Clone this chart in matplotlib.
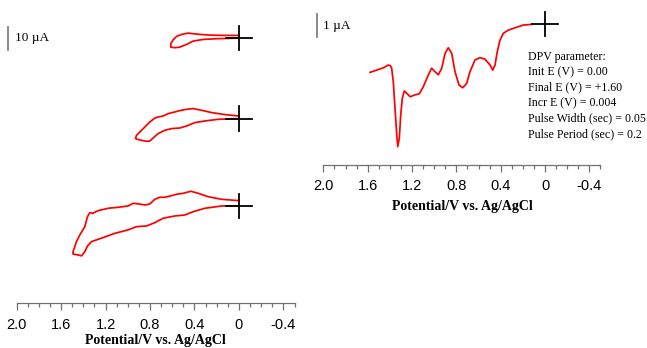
import numpy as np
import matplotlib
matplotlib.use("Agg")
import matplotlib.pyplot as plt
from matplotlib.ticker import FixedLocator, FixedFormatter, MultipleLocator

SERIF = "Liberation Serif"
SANS = "Liberation Sans"

# cyclic voltammograms, potential (V) and current (uA), one loop per scan window
cv1_E = [0.00, 0.111, 0.261, 0.351, 0.412, 0.457, 0.516, 0.561, 0.592, 0.613,
         0.613, 0.577, 0.532, 0.471, 0.412, 0.322, 0.201, 0.00]
cv1_I = [1.17, 1.17, 1.30, 1.61, 1.91, 2.17, 1.61, 0.74, -0.70, -2.43,
         -3.91, -4.17, -3.91, -2.74, -1.30, -0.57, -0.26, 0.00]

cv2_E = [0.00, 0.126, 0.246, 0.336, 0.412, 0.471, 0.532, 0.577, 0.637, 0.682,
         0.727, 0.757, 0.802, 0.847, 0.892, 0.922, 0.931, 0.892, 0.832, 0.802,
         0.772, 0.727, 0.667, 0.606, 0.532, 0.471, 0.396, 0.306, 0.186, 0.00]
cv2_I = [1.13, 1.74, 2.61, 3.61, 4.35, 4.04, 3.48, 2.87, 2.17, 1.13,
         0.70, 0.26, -1.48, -3.65, -5.83, -7.26, -8.70, -9.30, -9.87, -9.74,
         -8.43, -6.52, -5.09, -4.35, -4.09, -3.22, -1.74, -1.04, -0.30, 0.00]

cv3_E = [0.00, 0.156, 0.277, 0.367, 0.432, 0.502, 0.561, 0.606, 0.667, 0.712,
         0.757, 0.802, 0.847, 0.901, 0.952, 0.997, 1.087, 1.177, 1.268, 1.313,
         1.342, 1.363, 1.387, 1.432, 1.462, 1.493, 1.493, 1.448, 1.417, 1.387,
         1.363, 1.327, 1.237, 1.117, 0.997, 0.922, 0.832, 0.757, 0.682, 0.577,
         0.486, 0.412, 0.306, 0.156, 0.00]
cv3_I = [2.30, 2.91, 4.04, 5.52, 6.39, 5.52, 5.09, 4.48, 3.78, 3.78,
         2.91, 0.87, 0.43, 0.87, 1.17, 0.00, -0.57, -1.00, -2.04, -3.17,
         -2.91, -4.65, -9.00, -12.6, -15.5, -19.9, -20.9, -21.3, -21.7, -19.9,
         -17.4, -15.5, -14.0, -11.9, -10.4, -9.00, -8.70, -7.26, -5.35, -4.35,
         -3.91, -2.48, -1.00, 0.00, 0.00]

cv_offsets = [73.0, 38.0, 0.0]

# differential pulse voltammogram
dpv_E = [1.579, 1.519, 1.459, 1.414, 1.395, 1.384, 1.369, 1.354, 1.338, 1.329,
         1.315, 1.302, 1.288, 1.270, 1.248, 1.218, 1.173, 1.134, 1.098, 1.053,
         1.023, 0.993, 0.963, 0.932, 0.902, 0.873, 0.842, 0.812, 0.776, 0.743,
         0.707, 0.677, 0.632, 0.587, 0.542, 0.496, 0.472, 0.451, 0.431, 0.406,
         0.376, 0.331, 0.271, 0.196, 0.120]
dpv_I = [-2.09, -1.99, -1.89, -1.77, -1.80, -1.91, -2.50, -3.65, -4.81, -5.32,
         -4.96, -3.94, -3.22, -2.90, -3.00, -3.15, -3.07, -3.02, -2.71, -2.20,
         -1.91, -2.06, -2.20, -1.91, -1.26, -1.02, -1.26, -2.06, -2.64, -2.76,
         -2.57, -2.06, -1.55, -1.45, -1.51, -1.77, -1.99, -1.77, -1.19, -0.68,
         -0.39, -0.25, -0.15, -0.03, 0.00]

dpv_params = ["DPV parameter:", "Init E (V) = 0.00", "Final E (V) = +1.60",
              "Incr E (V) = 0.004", "Pulse Width (sec) = 0.05",
              "Pulse Period (sec) = 0.2"]

tick_vals = [2.0, 1.6, 1.2, 0.8, 0.4, 0.0, -0.4]
tick_text = ["2.0", "1.6", "1.2", "0.8", "0.4", "0", "-0.4"]

W, H = 647, 348
fig = plt.figure(figsize=(W / 100, H / 100), dpi=100)


def px_axes(x0, x1, ybot, ytop):
    return fig.add_axes([x0 / W, (H - ybot) / H, (x1 - x0) / W, (ybot - ytop) / H])


def style_potential_axis(ax, labelpad):
    for side in ("left", "right", "top"):
        ax.spines[side].set_visible(False)
    ax.spines["bottom"].set_color("#707070")
    ax.spines["bottom"].set_linewidth(0.9)
    ax.set_xlim(2.0, -0.5)
    ax.xaxis.set_major_locator(FixedLocator(tick_vals))
    ax.xaxis.set_major_formatter(FixedFormatter(tick_text))
    ax.xaxis.set_minor_locator(MultipleLocator(0.1))
    ax.tick_params(axis="x", which="major", direction="out", length=5, width=0.9,
                   color="#707070", pad=5.5, labelsize=10.5)
    ax.tick_params(axis="x", which="minor", direction="out", length=3, width=0.9,
                   color="#707070")
    for lab in ax.get_xticklabels():
        lab.set_fontfamily(SANS)
    ax.set_yticks([])
    ax.set_xlabel("Potential/V vs. Ag/AgCl", fontfamily=SERIF, fontweight="bold",
                  fontsize=10, labelpad=labelpad)


def crosshair(ax, y, dx, dy):
    ax.plot([dx, -dx], [y, y], color="black", lw=1.3, zorder=5, clip_on=False)
    ax.plot([0, 0], [y - dy, y + dy], color="black", lw=1.3, zorder=5, clip_on=False)


# left: stacked CV loops
ax1 = px_axes(16.7, 294.5, 303, 5)
style_potential_axis(ax1, labelpad=2)
ax1.set_ylim(-42.2, 87.4)
for E, I, off in zip([cv1_E, cv2_E, cv3_E], [cv1_I, cv2_I, cv3_I], cv_offsets):
    ax1.plot(E, np.array(I) + off, color="#ff0000", lw=1.25, zorder=3,
             solid_joinstyle="round")
    crosshair(ax1, off, 0.115, 5.3)
ax1.plot([2.078, 2.078], [67.8, 77.8], color="#808080", lw=1.3, clip_on=False)
ax1.text(2.015, 73.0, "10 µA", fontfamily=SERIF, fontsize=9.5, ha="left", va="center")

# right: DPV
ax2 = px_axes(323.4, 600.4, 164.5, 3)
style_potential_axis(ax2, labelpad=5)
ax2.set_ylim(-6.10, 0.93)
ax2.plot(dpv_E, dpv_I, color="#ff0000", lw=1.25, zorder=3, solid_joinstyle="round")
crosshair(ax2, 0.0, 0.117, 0.52)
ax2.plot([2.058, 2.058], [-0.55, 0.45], color="#808080", lw=1.3, clip_on=False)
ax2.text(2.0, -0.08, "1 µA", fontfamily=SERIF, fontsize=9.5, ha="left", va="center")

# parameter block, one row every 15.4 px (1 uA = 23 px)
for k, line in enumerate(dpv_params):
    ax2.text(0.151, -1.42 - k * 15.4 / 23, line, fontfamily=SERIF, fontsize=8.6,
             ha="left", va="center", clip_on=False)

fig.savefig("out.png", dpi=100)
